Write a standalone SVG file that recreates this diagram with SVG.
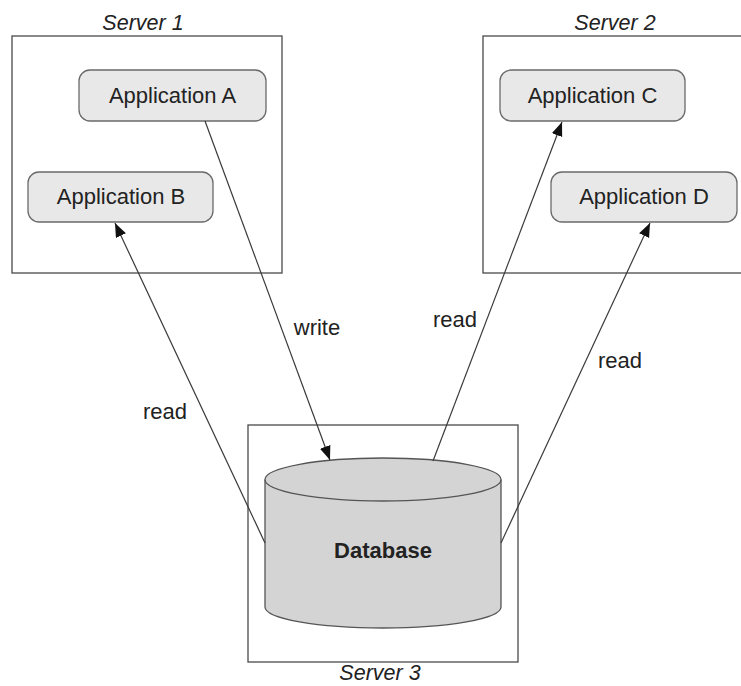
<svg xmlns="http://www.w3.org/2000/svg" width="741" height="686" viewBox="0 0 741 686">
<style>
.server{fill:none;stroke:#4a4a4a;stroke-width:1.3}
.app{fill:#e8e8e8;stroke:#6a6a6a;stroke-width:1.3}
.title{font-family:"Liberation Sans",Arial,sans-serif;font-style:italic;font-size:21.5px;fill:#222;text-anchor:middle}
.lbl{font-family:"Liberation Sans",Arial,sans-serif;font-size:22px;fill:#222;text-anchor:middle}
.db{font-family:"Liberation Sans",Arial,sans-serif;font-size:22px;font-weight:bold;fill:#222;text-anchor:middle}
.conn{stroke:#3a3a3a;stroke-width:1.2;fill:none;marker-end:url(#arrow)}
.cyl{fill:#d4d4d4;stroke:#555;stroke-width:1.3}
</style>
<defs>
<marker id="arrow" markerUnits="userSpaceOnUse" markerWidth="15" markerHeight="12" refX="14" refY="5.5" orient="auto">
<path d="M0,0 L14,5.5 L0,11 Z" fill="#111"/>
</marker>
</defs>
<rect width="741" height="686" fill="#fff"/>
<g id="server1">
<rect class="server" x="12" y="36" width="270" height="237"/>
<text class="title" x="143" y="30">Server 1</text>
</g>
<g id="server2">
<rect class="server" x="483" y="36" width="270" height="237"/>
<text class="title" x="615" y="30">Server 2</text>
</g>
<g id="server3">
<rect class="server" x="248" y="425" width="270" height="237"/>
<text class="title" x="380" y="680">Server 3</text>
</g>
<g id="appA">
<rect class="app" x="79" y="70" width="187" height="51" rx="11"/>
<text class="lbl" x="172.5" y="103">Application A</text>
</g>
<g id="appB">
<rect class="app" x="28" y="172" width="185" height="50" rx="11"/>
<text class="lbl" x="121" y="204">Application B</text>
</g>
<g id="appC">
<rect class="app" x="500" y="70" width="185" height="51" rx="11"/>
<text class="lbl" x="592.5" y="103">Application C</text>
</g>
<g id="appD">
<rect class="app" x="551" y="172" width="186" height="50" rx="11"/>
<text class="lbl" x="644" y="204">Application D</text>
</g>
<g id="database">
<path class="cyl" d="M265,479.5 L265,607 A118,21 0 0 0 501,607 L501,479.5"/>
<ellipse class="cyl" cx="383" cy="479.5" rx="118" ry="21.5"/>
<text class="db" x="383" y="558">Database</text>
</g>
<g id="connectors">
<line class="conn" x1="205" y1="121" x2="330" y2="460"/>
<line class="conn" x1="265" y1="543" x2="115" y2="223"/>
<line class="conn" x1="433" y1="461" x2="562" y2="122"/>
<line class="conn" x1="501" y1="543" x2="650" y2="223"/>
<text class="lbl" x="317" y="335">write</text>
<text class="lbl" x="165" y="419">read</text>
<text class="lbl" x="455" y="327">read</text>
<text class="lbl" x="620" y="368">read</text>
</g>
</svg>
